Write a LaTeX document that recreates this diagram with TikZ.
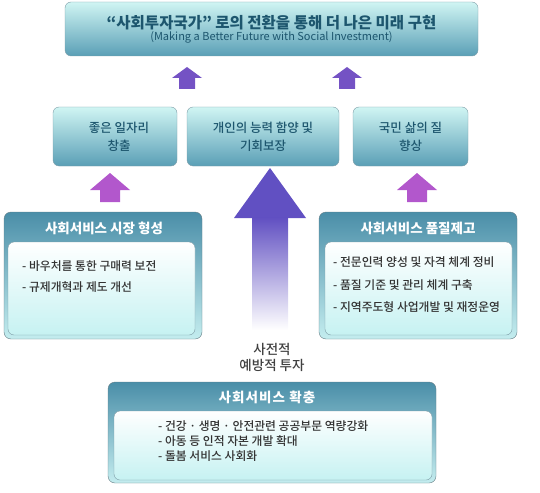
\documentclass[tikz,border=0pt]{standalone}
\usepackage{fontspec}
\setmainfont{Noto Sans CJK KR}
\newfontfamily\medfont{Noto Sans CJK KR Medium}
\definecolor{boxtop}{HTML}{D0F5F3}
\definecolor{boxbot}{HTML}{5A9FB6}
\definecolor{boxline}{HTML}{7E9CA6}
\definecolor{headtop}{HTML}{4A8EA8}
\definecolor{headbot}{HTML}{C4EDEF}
\definecolor{innerbot}{HTML}{C6F2F2}
\definecolor{tealtext}{HTML}{1D566E}
\definecolor{smallpurple}{HTML}{7452C4}
\definecolor{pinkarr}{HTML}{B257CC}
\definecolor{bigpurple}{HTML}{6150C2}
\newcommand{\uparr}[7]{\fill[#1] (#2,#3) -- (#2+#6,#4) -- (#2+#7,#4) -- (#2+#7,#5) -- (#2-#7,#5) -- (#2-#7,#4) -- (#2-#6,#4) -- cycle;}
\begin{document}
\begin{tikzpicture}[x=1pt,y=-1pt,line join=round,
  goalbox/.style={draw=boxline,rounded corners=6pt,top color=boxtop,bottom color=boxbot,align=center,text=tealtext},
  aimtext/.style={font=\fontsize{12.5}{18}\selectfont\medfont},
  outerbox/.style={draw=boxline!80!black,rounded corners=7pt,top color=headtop,bottom color=headbot},
  innerbox/.style={draw=boxline,rounded corners=6pt,top color=white,bottom color=innerbot},
  headtext/.style={text=white,font=\fontsize{13.5}{15}\selectfont\bfseries},
  itemtext/.style={anchor=north west,inner sep=0pt,align=left,text=black!80}]
\useasboundingbox (0,0) rectangle (540,492);
% top goal
\node[goalbox,minimum width=413pt,minimum height=54pt] (goal) at (271.5,29)
  {{\fontsize{15.5}{22}\selectfont\bfseries “사회투자국가” 로의 전환을 통해 더 나은 미래 구현}\\
   {\fontsize{11}{12}\selectfont (Making a Better Future with Social Investment)}};
\uparr{smallpurple}{187}{67}{78}{89}{15}{8}
\uparr{smallpurple}{347}{67}{78}{89}{15}{8}
% three aims
\node[goalbox,aimtext,minimum width=124pt,minimum height=59pt] (jobs) at (115,136.5) {\hspace*{8pt}좋은 일자리\\\hspace*{8pt}창출};
\node[goalbox,aimtext,minimum width=152pt,minimum height=59pt] (chance) at (263,136.5) {개인의 능력 함양 및\\기회보장};
\node[goalbox,aimtext,minimum width=115pt,minimum height=59pt] (life) at (410.5,136.5) {국민 삶의 질\\향상};
\uparr{pinkarr}{110}{173}{190}{202}{20}{10}
\uparr{pinkarr}{417}{173}{190}{202}{20}{10}
\fill[bigpurple] (270,168) -- (306,218) -- (234,218) -- cycle;
\shade[top color=bigpurple,bottom color=white] (252,217.5) rectangle (288,330);
% market
\node[outerbox,minimum width=198pt,minimum height=127pt] (market) at (103,275.5) {};
\node[headtext] (markethead) at (104,228) {사회서비스 시장 형성};
\node[innerbox,minimum width=187pt,minimum height=93pt] (marketin) at (101.5,288.5) {};
\node[itemtext,font=\fontsize{11.8}{21}\selectfont\medfont] (marketitems) at (22,260.5) {- 바우처를 통한 구매력 보전\\- 규제개혁과 제도 개선};
% quality
\node[outerbox,minimum width=198pt,minimum height=127pt] (quality) at (418,275.5) {};
\node[headtext] (qualityhead) at (418,228) {사회서비스 품질제고};
\node[innerbox,minimum width=187pt,minimum height=93pt] (qualityin) at (418.5,288.5) {};
\node[itemtext,font=\fontsize{11.8}{22.5}\selectfont\medfont] (qualityitems) at (333,256.5) {- 전문인력 양성 및 자격 체계 정비\\- 품질 기준 및 관리 체계 구축\\- 지역주도형 사업개발 및 재정운영};
% prevention
\node[align=center,text=black!75,font=\fontsize{13.5}{15.5}\selectfont\medfont] (invest) at (272,357.5) {사전적\\예방적 투자};
% expansion
\node[outerbox,minimum width=328pt,minimum height=101pt] (expand) at (272,432.5) {};
\node[headtext,font=\fontsize{13.5}{15}\selectfont\bfseries\addfontfeatures{LetterSpace=8}] (expandhead) at (267,397) {사회서비스 확충};
\node[innerbox,minimum width=318pt,minimum height=69pt] (expandin) at (273,445.5) {};
\node[itemtext,font=\fontsize{11.8}{15}\selectfont\medfont] (expanditems) at (158,420.5) {- 건강 · 생명 · 안전관련 공공부문 역량강화\\- 아동 등 인적 자본 개발 확대\\- 돌봄 서비스 사회화};
\end{tikzpicture}
\end{document}
